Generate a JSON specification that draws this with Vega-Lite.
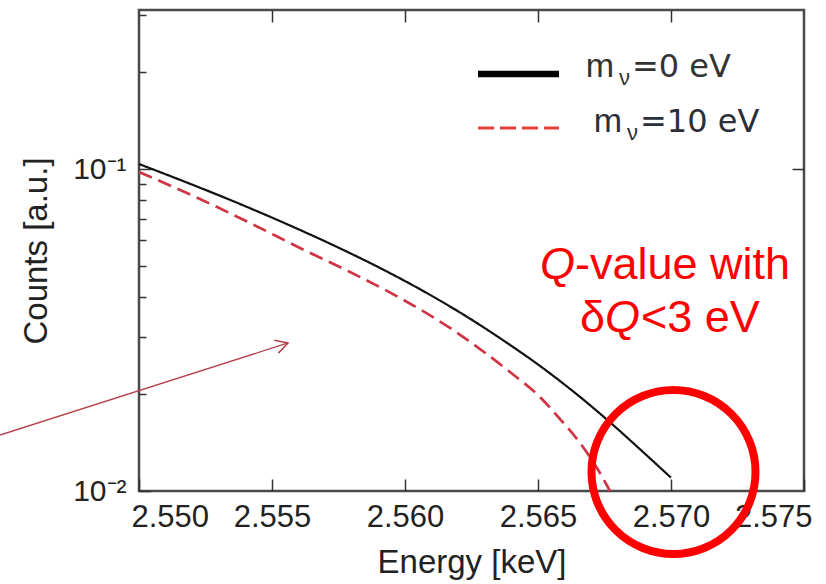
{
  "$schema": "https://vega.github.io/schema/vega-lite/v6.json",
  "width": 665,
  "height": 481,
  "autosize": "none",
  "padding": {"left": 139, "top": 10, "right": 22, "bottom": 93},
  "background": "white",
  "config": {
    "font": "Liberation Sans",
    "view": {"stroke": "#4a4a4a", "strokeWidth": 2.5},
    "axis": {"grid": false, "domain": false}
  },
  "resolve": {"axis": {"x": "independent", "y": "independent"}},
  "layer": [
    {
      "data": {"values": [
        {"series": "mν=0 eV", "energy": 2.55000, "counts": 0.10364},
        {"series": "mν=0 eV", "energy": 2.55154, "counts": 0.09257},
        {"series": "mν=0 eV", "energy": 2.55342, "counts": 0.08022},
        {"series": "mν=0 eV", "energy": 2.55594, "counts": 0.06530},
        {"series": "mν=0 eV", "energy": 2.55756, "counts": 0.05668},
        {"series": "mν=0 eV", "energy": 2.55906, "counts": 0.04928},
        {"series": "mν=0 eV", "energy": 2.56120, "counts": 0.03953},
        {"series": "mν=0 eV", "energy": 2.56244, "counts": 0.03431},
        {"series": "mν=0 eV", "energy": 2.56368, "counts": 0.02942},
        {"series": "mν=0 eV", "energy": 2.56508, "counts": 0.02444},
        {"series": "mν=0 eV", "energy": 2.56620, "counts": 0.02077},
        {"series": "mν=0 eV", "energy": 2.56759, "counts": 0.01667},
        {"series": "mν=0 eV", "energy": 2.56883, "counts": 0.01349},
        {"series": "mν=0 eV", "energy": 2.57000, "counts": 0.01100},
        {"series": "mν=10 eV", "energy": 2.550000, "counts": 0.09788},
        {"series": "mν=10 eV", "energy": 2.552293, "counts": 0.08069},
        {"series": "mν=10 eV", "energy": 2.554173, "counts": 0.06799},
        {"series": "mν=10 eV", "energy": 2.556053, "counts": 0.05684},
        {"series": "mν=10 eV", "energy": 2.557932, "counts": 0.04789},
        {"series": "mν=10 eV", "energy": 2.559812, "counts": 0.03976},
        {"series": "mν=10 eV", "energy": 2.561692, "counts": 0.03209},
        {"series": "mν=10 eV", "energy": 2.562820, "counts": 0.02760},
        {"series": "mν=10 eV", "energy": 2.563947, "counts": 0.02342},
        {"series": "mν=10 eV", "energy": 2.565075, "counts": 0.01958},
        {"series": "mν=10 eV", "energy": 2.565827, "counts": 0.01673},
        {"series": "mν=10 eV", "energy": 2.566579, "counts": 0.01410},
        {"series": "mν=10 eV", "energy": 2.567331, "counts": 0.01137},
        {"series": "mν=10 eV", "energy": 2.567707, "counts": 0.01000}
      ]},
      "mark": {"type": "line", "interpolate": "monotone"},
      "encoding": {
        "x": {
          "field": "energy", "type": "quantitative",
          "scale": {"domain": [2.55, 2.575], "nice": false, "zero": false},
          "axis": {
            "orient": "bottom",
            "values": [2.55, 2.555, 2.56, 2.565, 2.57, 2.575],
            "format": ".3f",
            "labelFontSize": 31, "labelColor": "#222",
            "labelFlush": true, "labelFlushOffset": 8,
            "labelPadding": 23,
            "tickSize": -12, "tickColor": "#333", "tickWidth": 1.5,
            "title": "Energy [keV]", "titleFontSize": 33, "titleFontWeight": "normal",
            "titleColor": "#222", "titlePadding": 14
          }
        },
        "y": {
          "field": "counts", "type": "quantitative",
          "scale": {"type": "log", "domain": [0.01, 0.3118], "nice": false},
          "axis": {
            "orient": "left",
            "values": [0.01, 0.02, 0.03, 0.04, 0.05, 0.06, 0.07, 0.08, 0.09, 0.1, 0.2, 0.3],
            "labelExpr": "abs(datum.value - 0.1) < 1e-9 ? '10⁻¹' : (abs(datum.value - 0.01) < 1e-9 ? '10⁻²' : '')",
            "labelFontSize": 30, "labelColor": "#222", "labelPadding": 25,
            "tickSize": {"condition": {"test": "abs(datum.value - 0.1) < 1e-9 || abs(datum.value - 0.01) < 1e-9", "value": -12}, "value": -7},
            "tickColor": "#333", "tickWidth": 1.5,
            "title": "Counts [a.u.]", "titleFontSize": 33, "titleFontWeight": "normal",
            "titleColor": "#222", "titlePadding": 19
          }
        },
        "color": {
          "field": "series", "type": "nominal",
          "scale": {"domain": ["mν=0 eV", "mν=10 eV"], "range": ["#111111", "#cf3545"]},
          "legend": null
        },
        "strokeDash": {
          "field": "series", "type": "nominal",
          "scale": {"domain": ["mν=0 eV", "mν=10 eV"], "range": [[1, 0], [14, 7]]},
          "legend": null
        },
        "strokeWidth": {
          "field": "series", "type": "nominal",
          "scale": {"domain": ["mν=0 eV", "mν=10 eV"], "range": [2.2, 2.7]},
          "legend": null
        }
      }
    },
    {
      "data": {"values": [{}]},
      "mark": {"type": "point", "opacity": 0},
      "encoding": {
        "x": {
          "datum": 2.56, "type": "quantitative",
          "scale": {"domain": [2.55, 2.575], "nice": false, "zero": false},
          "axis": {"orient": "top", "values": [2.555, 2.56, 2.565, 2.57], "labels": false, "tickSize": -12, "tickColor": "#333", "tickWidth": 1.5, "title": null}
        },
        "y": {
          "datum": 0.1, "type": "quantitative",
          "scale": {"type": "log", "domain": [0.01, 0.3118], "nice": false},
          "axis": {"orient": "right", "values": [0.1], "labels": false, "tickSize": -12, "tickColor": "#333", "tickWidth": 1.5, "title": null}
        }
      }
    },
    {
      "data": {"values": [{}]},
      "mark": {"type": "rule", "color": "#b5404a", "strokeWidth": 1.3},
      "encoding": {
        "x": {"datum": 2.544774, "type": "quantitative", "scale": {"domain": [2.55, 2.575], "nice": false, "zero": false}, "axis": null},
        "y": {"datum": 0.01492, "type": "quantitative", "scale": {"type": "log", "domain": [0.01, 0.3118], "nice": false}, "axis": null},
        "x2": {"datum": 2.555602},
        "y2": {"datum": 0.02882}
      }
    },
    {
      "data": {"values": [{}]},
      "mark": {"type": "point", "shape": "M-1,-0.55L0,0L-1,0.55", "filled": false, "color": "#b5404a", "strokeWidth": 1.5, "size": 600, "angle": -17.7, "opacity": 1},
      "encoding": {
        "x": {"datum": 2.555602, "type": "quantitative", "scale": {"domain": [2.55, 2.575], "nice": false, "zero": false}, "axis": null},
        "y": {"datum": 0.02882, "type": "quantitative", "scale": {"type": "log", "domain": [0.01, 0.3118], "nice": false}, "axis": null}
      }
    },
    {
      "data": {"values": [{}]},
      "mark": {"type": "rule", "color": "#000000", "strokeWidth": 6.5},
      "encoding": {
        "x": {"datum": 2.562744, "type": "quantitative", "scale": {"domain": [2.55, 2.575], "nice": false, "zero": false}, "axis": null},
        "x2": {"datum": 2.565789},
        "y": {"datum": 0.1972, "type": "quantitative", "scale": {"type": "log", "domain": [0.01, 0.3118], "nice": false}, "axis": null}
      }
    },
    {
      "data": {"values": [{}]},
      "mark": {"type": "rule", "color": "#e4403a", "strokeWidth": 3, "strokeDash": [16, 6]},
      "encoding": {
        "x": {"datum": 2.562744, "type": "quantitative", "scale": {"domain": [2.55, 2.575], "nice": false, "zero": false}, "axis": null},
        "x2": {"datum": 2.565789},
        "y": {"datum": 0.1340, "type": "quantitative", "scale": {"type": "log", "domain": [0.01, 0.3118], "nice": false}, "axis": null}
      }
    },
    {
      "data": {"values": [{"label": "m"}]},
      "mark": {"type": "text", "align": "right", "baseline": "alphabetic", "font": "Liberation Sans", "fontSize": 34, "color": "#333333", "dx": -18},
      "encoding": {
        "text": {"field": "label"},
        "x": {"datum": 2.568534, "type": "quantitative", "scale": {"domain": [2.55, 2.575], "nice": false, "zero": false}, "axis": null},
        "y": {"datum": 0.1931, "type": "quantitative", "scale": {"type": "log", "domain": [0.01, 0.3118], "nice": false}, "axis": null}
      }
    },
    {
      "data": {"values": [{"label": "ν"}]},
      "mark": {"type": "text", "align": "right", "baseline": "alphabetic", "font": "Liberation Sans", "fontSize": 22, "color": "#333333", "dx": -2, "dy": 8},
      "encoding": {
        "text": {"field": "label"},
        "x": {"datum": 2.568534, "type": "quantitative", "scale": {"domain": [2.55, 2.575], "nice": false, "zero": false}, "axis": null},
        "y": {"datum": 0.1931, "type": "quantitative", "scale": {"type": "log", "domain": [0.01, 0.3118], "nice": false}, "axis": null}
      }
    },
    {
      "data": {"values": [{"label": "=0 eV"}]},
      "mark": {"type": "text", "align": "left", "baseline": "alphabetic", "font": "DejaVu Sans", "fontSize": 32, "color": "#333333"},
      "encoding": {
        "text": {"field": "label"},
        "x": {"datum": 2.568534, "type": "quantitative", "scale": {"domain": [2.55, 2.575], "nice": false, "zero": false}, "axis": null},
        "y": {"datum": 0.1931, "type": "quantitative", "scale": {"type": "log", "domain": [0.01, 0.3118], "nice": false}, "axis": null}
      }
    },
    {
      "data": {"values": [{"label": "m"}]},
      "mark": {"type": "text", "align": "right", "baseline": "alphabetic", "font": "Liberation Sans", "fontSize": 34, "color": "#2a2f3a", "dx": -18},
      "encoding": {
        "text": {"field": "label"},
        "x": {"datum": 2.568835, "type": "quantitative", "scale": {"domain": [2.55, 2.575], "nice": false, "zero": false}, "axis": null},
        "y": {"datum": 0.1302, "type": "quantitative", "scale": {"type": "log", "domain": [0.01, 0.3118], "nice": false}, "axis": null}
      }
    },
    {
      "data": {"values": [{"label": "ν"}]},
      "mark": {"type": "text", "align": "right", "baseline": "alphabetic", "font": "Liberation Sans", "fontSize": 22, "color": "#2a2f3a", "dx": -2, "dy": 8},
      "encoding": {
        "text": {"field": "label"},
        "x": {"datum": 2.568835, "type": "quantitative", "scale": {"domain": [2.55, 2.575], "nice": false, "zero": false}, "axis": null},
        "y": {"datum": 0.1302, "type": "quantitative", "scale": {"type": "log", "domain": [0.01, 0.3118], "nice": false}, "axis": null}
      }
    },
    {
      "data": {"values": [{"label": "=10 eV"}]},
      "mark": {"type": "text", "align": "left", "baseline": "alphabetic", "font": "DejaVu Sans", "fontSize": 32, "color": "#2a2f3a"},
      "encoding": {
        "text": {"field": "label"},
        "x": {"datum": 2.568835, "type": "quantitative", "scale": {"domain": [2.55, 2.575], "nice": false, "zero": false}, "axis": null},
        "y": {"datum": 0.1302, "type": "quantitative", "scale": {"type": "log", "domain": [0.01, 0.3118], "nice": false}, "axis": null}
      }
    },
    {
      "data": {"values": [{"label": "Q"}]},
      "mark": {"type": "text", "align": "right", "baseline": "alphabetic", "fontSize": 45, "fontStyle": "italic", "color": "#ff0000"},
      "encoding": {
        "text": {"field": "label"},
        "x": {"datum": 2.566391, "type": "quantitative", "scale": {"domain": [2.55, 2.575], "nice": false, "zero": false}, "axis": null},
        "y": {"datum": 0.04554, "type": "quantitative", "scale": {"type": "log", "domain": [0.01, 0.3118], "nice": false}, "axis": null}
      }
    },
    {
      "data": {"values": [{"label": "-value with"}]},
      "mark": {"type": "text", "align": "left", "baseline": "alphabetic", "fontSize": 45, "color": "#ff0000"},
      "encoding": {
        "text": {"field": "label"},
        "x": {"datum": 2.566391, "type": "quantitative", "scale": {"domain": [2.55, 2.575], "nice": false, "zero": false}, "axis": null},
        "y": {"datum": 0.04554, "type": "quantitative", "scale": {"type": "log", "domain": [0.01, 0.3118], "nice": false}, "axis": null}
      }
    },
    {
      "data": {"values": [{"label": "δ"}]},
      "mark": {"type": "text", "align": "right", "baseline": "alphabetic", "fontSize": 45, "color": "#ff0000"},
      "encoding": {
        "text": {"field": "label"},
        "x": {"datum": 2.567519, "type": "quantitative", "scale": {"domain": [2.55, 2.575], "nice": false, "zero": false}, "axis": null},
        "y": {"datum": 0.03117, "type": "quantitative", "scale": {"type": "log", "domain": [0.01, 0.3118], "nice": false}, "axis": null}
      }
    },
    {
      "data": {"values": [{"label": "Q"}]},
      "mark": {"type": "text", "align": "left", "baseline": "alphabetic", "fontSize": 45, "fontStyle": "italic", "color": "#ff0000"},
      "encoding": {
        "text": {"field": "label"},
        "x": {"datum": 2.567519, "type": "quantitative", "scale": {"domain": [2.55, 2.575], "nice": false, "zero": false}, "axis": null},
        "y": {"datum": 0.03117, "type": "quantitative", "scale": {"type": "log", "domain": [0.01, 0.3118], "nice": false}, "axis": null}
      }
    },
    {
      "data": {"values": [{"label": "<3 eV"}]},
      "mark": {"type": "text", "align": "left", "baseline": "alphabetic", "fontSize": 45, "color": "#ff0000"},
      "encoding": {
        "text": {"field": "label"},
        "x": {"datum": 2.568872, "type": "quantitative", "scale": {"domain": [2.55, 2.575], "nice": false, "zero": false}, "axis": null},
        "y": {"datum": 0.03117, "type": "quantitative", "scale": {"type": "log", "domain": [0.01, 0.3118], "nice": false}, "axis": null}
      }
    },
    {
      "data": {"values": [{}]},
      "mark": {"type": "point", "shape": "circle", "filled": false, "color": "#ff0000", "strokeWidth": 8, "size": 26896, "opacity": 1},
      "encoding": {
        "x": {"datum": 2.570094, "type": "quantitative", "scale": {"domain": [2.55, 2.575], "nice": false, "zero": false}, "axis": null},
        "y": {"datum": 0.011457, "type": "quantitative", "scale": {"type": "log", "domain": [0.01, 0.3118], "nice": false}, "axis": null}
      }
    }
  ]
}
